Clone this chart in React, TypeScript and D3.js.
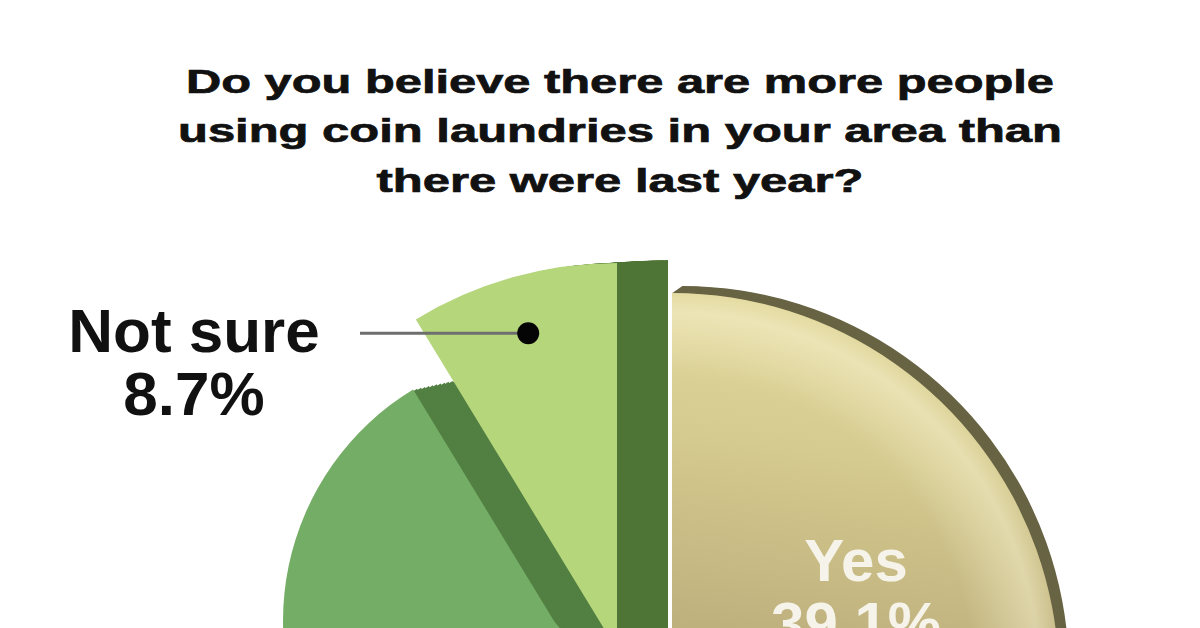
import React from 'react';
import * as d3 from 'd3';

// Survey answers (Yes + Not sure are labelled in the picture, the rest is the hidden slice)
const categories = ['Yes', 'No', 'Not sure'];
const shares = [39.1, 52.2, 8.7];
const shareLabels = ['39.1%', '52.2%', '8.7%'];
const titleLines = [
    'Do you believe there are more people',
    'using coin laundries in your area than',
    'there were last year?',
];

const width = 1200;
const height = 628;

// layout of each exploded 3D slice: centre, radius, extrusion offset and colours
const sliceStyle: Record<string, any> = {
    'Yes': { cx: 672, cy: 680, r: 387, depth: [10, -7], face: 'url(#yesFace)', side: '#686444', shine: true },
    'No': { cx: 554, cy: 621, r: 271, depth: [55, -12], face: '#74ad65', side: '#527f42' },
    'Not sure': { cx: 617, cy: 650, r: 387, depth: [51, -3], face: '#b5d67b', side: '#4e7535' },
};

const titleWidths = [868, 884, 487];
const titleBaselines = [93, 142, 192];

const App: React.FC = () => {

    const data = categories.map((c, i) => ({ name: c, value: shares[i], label: shareLabels[i] }));

    // angles from the top, clockwise, in data order
    const pie = d3.pie<any>().sort(null).value((d) => d.value);
    const arcs = pie(data);

    const steps = 14;
    const drawOrder = ['Yes', 'No', 'Not sure'];

    const yesArc = arcs.find((a) => a.data.name === 'Yes')!;
    const notSureArc = arcs.find((a) => a.data.name === 'Not sure')!;

    const yesS = sliceStyle['Yes'];
    const yesPos = d3.arc<any>().innerRadius(yesS.r * 0.505).outerRadius(yesS.r * 0.505).centroid(yesArc);

    const nsS = sliceStyle['Not sure'];
    const dotPos = d3.arc<any>().innerRadius(nsS.r * 0.85).outerRadius(nsS.r * 0.85).centroid(notSureArc);

    // gradients live in the slice's own (translated) coordinates
    const gy = (y: number) => y - yesS.cy;
    const gx = (x: number) => x - yesS.cx;

    return (
        <svg width={width} height={height} style={{ position: 'absolute', left: 0, top: 0, background: '#fff' }}
            fontFamily="'Liberation Sans', Arial, sans-serif">
            <defs>
                <linearGradient id="yesFace" gradientUnits="userSpaceOnUse" x1={gx(780)} y1={gy(290)} x2={gx(730)} y2={gy(628)}>
                    <stop offset="0" stopColor="#e3d99d" />
                    <stop offset="0.45" stopColor="#d5ca8f" />
                    <stop offset="1" stopColor="#bfb17e" />
                </linearGradient>
                <radialGradient id="yesShine" gradientUnits="userSpaceOnUse" cx={0} cy={0} r={yesS.r}>
                    <stop offset="0.78" stopColor="#fffbe0" stopOpacity={0} />
                    <stop offset="0.95" stopColor="#fffbe0" stopOpacity={0.4} />
                    <stop offset="1" stopColor="#fffbe0" stopOpacity={0.1} />
                </radialGradient>
            </defs>

            {/* Title */}
            <g fontWeight="bold" fontSize={34} fill="#111" stroke="#111" strokeWidth={0.7} textAnchor="middle">
                {titleLines.map((t, i) => (
                    <text key={i} x={620} y={titleBaselines[i]} textLength={titleWidths[i]} lengthAdjust="spacingAndGlyphs">{t}</text>
                ))}
            </g>

            {/* Slices: extruded side first, then the top face */}
            {drawOrder.map((name) => {
                const a = arcs.find((d) => d.data.name === name)!;
                const s = sliceStyle[name];
                const path = d3.arc<any>().innerRadius(0).outerRadius(s.r)(a) || '';
                const copies = d3.range(steps, 0, -1).map((k) => (
                    <path key={k} d={path} fill={s.side}
                        transform={`translate(${s.cx + s.depth[0] * k / steps},${s.cy + s.depth[1] * k / steps})`} />
                ));
                return (
                    <g key={name}>
                        {copies}
                        <path d={path} fill={s.face} transform={`translate(${s.cx},${s.cy})`} />
                        {s.shine && <path d={path} fill="url(#yesShine)" transform={`translate(${s.cx},${s.cy})`} />}
                    </g>
                );
            })}

            {/* Not sure callout */}
            <line x1={360} y1={nsS.cy + dotPos[1]} x2={nsS.cx + dotPos[0]} y2={nsS.cy + dotPos[1]}
                stroke="#6e6e6e" strokeWidth={3} />
            <circle cx={nsS.cx + dotPos[0]} cy={nsS.cy + dotPos[1]} r={11} fill="#050505" />
            <g fontWeight="bold" fontSize={62} fill="#111" textAnchor="middle">
                <text x={194} y={352}>{notSureArc.data.name}</text>
                <text x={194} y={415}>{notSureArc.data.label}</text>
            </g>

            {/* Yes label (the second line runs off the bottom, as in the source picture) */}
            <g fontWeight="bold" fontSize={60} fill="#f6f4ea" textAnchor="middle">
                <text x={yesS.cx + yesPos[0]} y={yesS.cy + yesPos[1] - 33}>{yesArc.data.name}</text>
                <text x={yesS.cx + yesPos[0]} y={yesS.cy + yesPos[1] + 30}>{yesArc.data.label}</text>
            </g>
        </svg>
    );
};

export default App;
